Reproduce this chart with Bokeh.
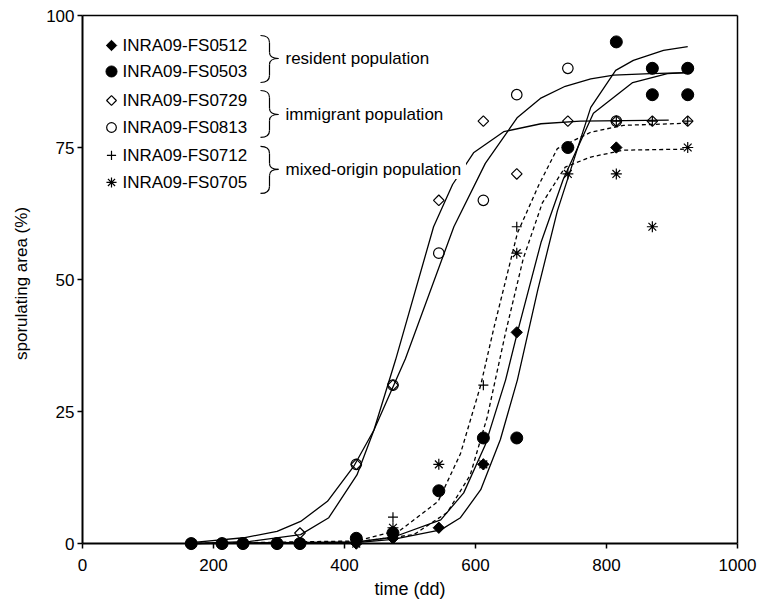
import math
from bokeh.plotting import figure
from bokeh.models import Range1d, LinearAxis, FixedTicker, Label, Span
from bokeh.core.properties import value
from bokeh.embed import file_html
from bokeh.resources import INLINE

FONT = "Liberation Sans"

# ---------------- data ----------------
time = [166, 213, 245, 297, 332, 418, 474, 544, 612, 663, 741, 815, 870, 924]
fs0512 = [0, 0, 0, 0, 0, 0, 1, 3, 15, 40, 75, 75, 85, 85]
fs0503 = [0, 0, 0, 0, 0, 1, 2, 10, 20, 20, 75, 95, 90, 90]
fs0503_rep_time = [870, 924]
fs0503_rep = [85, 85]
fs0729 = [0, 0, 0, 0, 2, 15, 30, 65, 80, 70, 80, 80, 80, 80]
fs0813 = [0, 0, 0, 0, 0, 15, 30, 55, 65, 85, 90, 80, 90, 90]
fs0712 = [0, 0, 0, 0, 0, 0, 5, 10, 30, 60, 75, 80, 80, 80]
fs0705 = [0, 0, 0, 0, 0, 0, 3, 15, 15, 55, 70, 70, 60, 75]

# fitted curves (vertices)
fit0512_t = [166, 418, 474, 547, 582, 615, 646, 664, 700, 734, 780, 840, 893, 924]
fit0512_y = [0, 0.3, 1.2, 4.5, 9.6, 18.7, 31, 40, 57, 69, 81.5, 87.3, 89, 89.2]
fit0503_t = [166, 418, 474, 547, 577, 608, 638, 664, 695, 725, 776, 814, 841, 887, 924]
fit0503_y = [0, 0.2, 0.8, 2.6, 4.9, 10.2, 19.7, 31, 48, 63, 82.6, 89.6, 91.5, 93.4, 94.1]
fit0729_t = [166, 256, 333, 376, 419, 445, 478, 536, 565, 597, 643, 700, 760, 895]
fit0729_y = [0, 0.4, 1.7, 4.9, 13, 21.5, 34.8, 60, 68, 74, 78, 79.5, 80, 80.2]
fit0813_t = [166, 246, 297, 333, 374, 414, 445, 493, 567, 615, 664, 699, 737, 776, 811, 867, 923]
fit0813_y = [0.2, 1.1, 2.3, 4.2, 8, 14.6, 21.5, 35, 60, 72, 80.7, 84.3, 86.6, 88, 88.7, 89, 89.2]
fit0712_t = [166, 418, 486, 543, 577, 608, 628, 664, 697, 725, 776, 826, 924]
fit0712_y = [0, 0.5, 2.6, 8, 17, 30, 40.8, 58.8, 68, 74.8, 77.9, 79.2, 79.6]
fit0705_t = [166, 418, 506, 557, 592, 618, 646, 673, 702, 737, 776, 826, 924]
fit0705_y = [0, 0.3, 1.7, 5.9, 13, 24, 40, 54, 64.5, 71.3, 73.2, 74.5, 74.7]

x_ticks = [0, 200, 400, 600, 800, 1000]
y_ticks = [0, 25, 50, 75, 100]

legend_names = ["INRA09-FS0512", "INRA09-FS0503", "INRA09-FS0729",
                "INRA09-FS0813", "INRA09-FS0712", "INRA09-FS0705"]
group_names = ["resident population", "immigrant population", "mixed-origin  population"]

# ---------------- layout helpers (reference pixel -> data) ----------------
def dx(px):
    return (px - 82.0) / 655.0 * 1000.0

def dy(py):
    return (543.2 - py) / 528.2 * 100.0

p = figure(width=762, height=603,
           x_range=Range1d(0, 1000), y_range=Range1d(-1.5, 100),
           output_backend="svg", toolbar_location=None,
           min_border_left=82, min_border_right=25,
           min_border_top=15, min_border_bottom=52)
p.outline_line_color = None
p.grid.grid_line_color = None
p.background_fill_color = "white"
p.border_fill_color = "white"

def style_labels(ax):
    ax.major_label_text_font = FONT
    ax.major_label_text_font_size = "17px"
    ax.major_label_text_color = "black"

# x axis: frame bottom lies 8 px under y = 0, ticks reach up to the y = 0 line
xa = p.xaxis[0]
xa.ticker = FixedTicker(ticks=x_ticks)
xa.axis_line_color = None
xa.major_tick_line_color = "black"
xa.major_tick_line_width = 1.5
xa.major_tick_in = 8
xa.major_tick_out = -3
xa.minor_tick_line_color = None
xa.minor_tick_out = 0
xa.minor_tick_in = 0
style_labels(xa)
xa.major_label_standoff = 7
xa.axis_label = "time (dd)"
xa.axis_label_text_font = FONT
xa.axis_label_text_font_size = "18px"
xa.axis_label_text_font_style = "normal"
xa.axis_label_text_color = "black"
xa.axis_label_standoff = 5

# x axis line at y = 0
p.add_layout(Span(location=0, dimension="width", line_color="black", line_width=2))

ya = p.yaxis[0]
ya.ticker = FixedTicker(ticks=y_ticks)
ya.bounds = (0, 100)
ya.axis_line_color = "black"
ya.axis_line_width = 2
ya.major_tick_line_color = "black"
ya.major_tick_line_width = 1.5
ya.major_tick_out = 5
ya.major_tick_in = 0
ya.minor_tick_line_color = None
ya.minor_tick_out = 0
ya.minor_tick_in = 0
style_labels(ya)
ya.major_label_standoff = 3
ya.axis_label = "sporulating area (%)"
ya.axis_label_text_font = FONT
ya.axis_label_text_font_size = "17px"
ya.axis_label_text_font_style = "normal"
ya.axis_label_text_color = "black"
ya.axis_label_standoff = 12

top_ax = LinearAxis(ticker=FixedTicker(ticks=[]), major_tick_out=0, major_tick_in=0,
                    minor_tick_out=0, minor_tick_in=0, axis_line_width=1.5,
                    axis_line_color="black")
p.add_layout(top_ax, "above")
right_ax = LinearAxis(ticker=FixedTicker(ticks=[]), bounds=(0, 100), major_tick_out=0,
                      major_tick_in=0, minor_tick_out=0, minor_tick_in=0,
                      axis_line_width=1.5, axis_line_color="black")
p.add_layout(right_ax, "right")

# ---------------- curves ----------------
LW = 1.3
for t, y in [(fit0729_t, fit0729_y), (fit0813_t, fit0813_y),
             (fit0512_t, fit0512_y), (fit0503_t, fit0503_y)]:
    p.line(t, y, line_color="black", line_width=LW)
for t, y in [(fit0712_t, fit0712_y), (fit0705_t, fit0705_y)]:
    p.line(t, y, line_color="black", line_width=LW, line_dash="4 3")

# ---------------- markers ----------------
MS = dict(
    f0712=dict(marker="cross", size=10, fill_color=None, line_color="black", line_width=1.2),
    f0729=dict(marker="square", angle=math.pi / 4, size=7.5, fill_color=None,
               line_color="black", line_width=1.2),
    f0813=dict(marker="circle", size=10.5, fill_color=None, line_color="black", line_width=1.2),
    f0705=dict(marker="asterisk", size=11, line_color="black", line_width=1.2),
    f0512=dict(marker="square", angle=math.pi / 4, size=8, fill_color="black",
               line_color="black", line_width=1),
    f0503=dict(marker="circle", size=12, fill_color="black", line_color="black", line_width=1),
)
p.scatter(time, fs0712, **MS["f0712"])
p.scatter(time, fs0729, **MS["f0729"])
p.scatter(time, fs0813, **MS["f0813"])
p.scatter(time, fs0705, **MS["f0705"])
p.scatter(time, fs0512, **MS["f0512"])
p.scatter(time, fs0503, **MS["f0503"])
p.scatter(fs0503_rep_time, fs0503_rep, **MS["f0503"])

# ---------------- legend ----------------
row_py = [45, 71, 100, 127, 155, 182]
leg_styles = [MS["f0512"], MS["f0503"], MS["f0729"], MS["f0813"], MS["f0712"], MS["f0705"]]
for py, st in zip(row_py, leg_styles):
    st2 = dict(st)
    st2["size"] = st["size"] * 0.92
    p.scatter([dx(111)], [dy(py)], **st2)
p.text(x=[dx(122)] * len(legend_names), y=[dy(py) for py in row_py], text=legend_names,
       text_font=value(FONT), text_font_size="17px", text_baseline="middle",
       text_align="left", text_color="black")

# braces
def brace(top, bot, mid, xl=260, xm=269, xt=278):
    b = []  # (x0,y0,x1,y1,cx0,cy0,cx1,cy1)
    b.append((xl, top, xm, top + 7, xm - 2, top, xm, top + 3))
    b.append((xm, top + 7, xm, mid - 6, xm, top + 7, xm, mid - 6))
    b.append((xm, mid - 6, xt, mid, xm, mid - 2, xt - 5, mid))
    b.append((xt, mid, xm, mid + 6, xt - 5, mid, xm, mid + 2))
    b.append((xm, mid + 6, xm, bot - 7, xm, mid + 6, xm, bot - 7))
    b.append((xm, bot - 7, xl, bot, xm, bot - 3, xm - 2, bot))
    return b

segs = brace(35, 82, 58) + brace(90, 137, 114) + brace(146, 193, 169)
p.bezier(x0=[dx(s[0]) for s in segs], y0=[dy(s[1]) for s in segs],
         x1=[dx(s[2]) for s in segs], y1=[dy(s[3]) for s in segs],
         cx0=[dx(s[4]) for s in segs], cy0=[dy(s[5]) for s in segs],
         cx1=[dx(s[6]) for s in segs], cy1=[dy(s[7]) for s in segs],
         line_color="black", line_width=1.2)

for name, py in zip(group_names, [58, 114, 169]):
    p.add_layout(Label(x=dx(285), y=dy(py), text=name, text_baseline="middle",
                       text_align="left", text_font=FONT, text_font_size="17px",
                       text_color="black", background_fill_color="white"))

open("out.html", "w").write(file_html(p, INLINE))
